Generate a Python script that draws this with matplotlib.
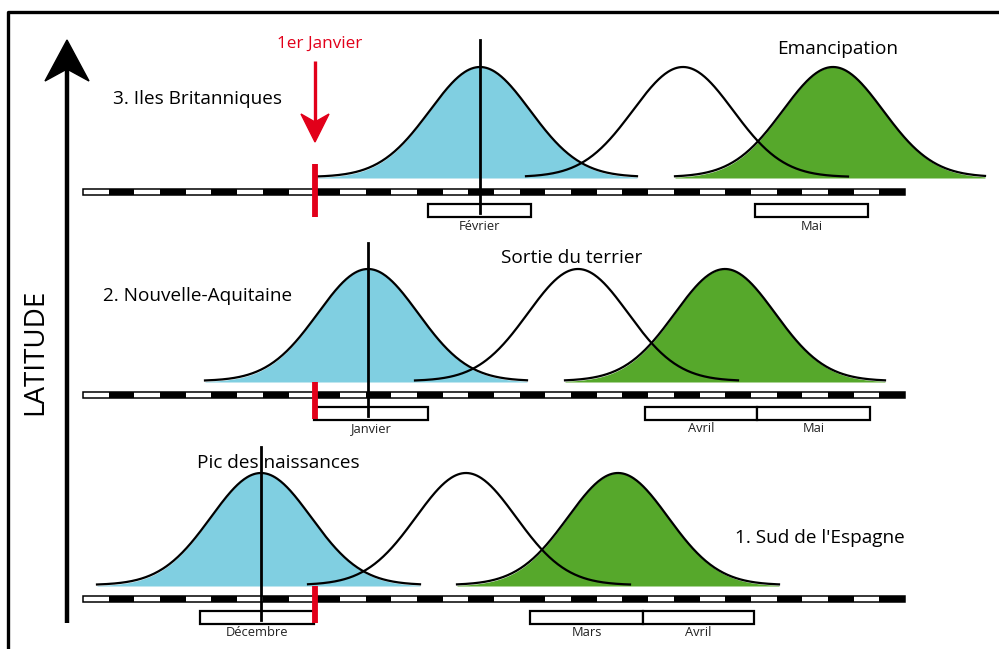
import matplotlib.pyplot as plt
import numpy as np
from matplotlib.patches import Rectangle, Polygon

plt.rcParams['font.family'] = ['Open Sans', 'DejaVu Sans']

# --- données du schéma (en pixels de l'image) ---
rangs = ['1. Sud de l\'Espagne', '2. Nouvelle-Aquitaine', '3. Iles Britanniques']
rang_pos = [(735, 538), (103, 296), (113, 99)]
barre_y = [599, 395, 192]            # axe du temps de chaque rang
base_y = [586, 382, 178]             # pied des courbes
sommet_y = [473, 269, 67]            # sommet des courbes

# centre et étendue (gauche, droite) des trois courbes par rang
bleu_c = [261, 368, 480]
bleu_ext = [(97, 420), (205, 527), (315, 637)]
blanc_c = [466, 578, 683]
blanc_ext = [(308, 630), (415, 738), (526, 848)]
vert_c = [618, 725, 833]
vert_ext = [(457, 779), (565, 885), (675, 985)]
sigma = 50

# pics des naissances (trait vertical)
pic_x = [261, 368, 480]
pic_haut = [447, 243, 40]

# mois sous chaque axe : (rang, nom, debut, fin)
mois = [(0, 'Décembre', 200, 314), (0, 'Mars', 530, 643), (0, 'Avril', 643, 754),
        (1, 'Janvier', 314, 428), (1, 'Avril', 645, 757), (1, 'Mai', 757, 870),
        (2, 'Février', 428, 531), (2, 'Mai', 755, 868)]

janvier_x = 315
barre_x0, barre_x1, n_seg = 83, 905, 32

bleu = '#80CFE1'
vert = '#56A82B'
rouge = '#E2001A'

fig = plt.figure(figsize=(9.99, 6.49), dpi=100)
ax = fig.add_axes([0, 0, 1, 1])
ax.set_xlim(0, 999)
ax.set_ylim(649, 0)
ax.axis('off')

# cadre
ax.plot([8, 8, 999], [649, 12, 12], color='black', lw=2.4, solid_capstyle='butt')

# axe LATITUDE
ax.plot([67, 67], [68, 623], color='black', lw=3.2, solid_capstyle='butt')
ax.add_patch(Polygon([(67, 40), (89, 81), (67, 69), (45, 81)], closed=True, color='black'))
ax.text(35, 352, 'LATITUDE', rotation=90, ha='center', va='center', fontsize=20)


def cloche(c, ext, b, s):
    x = np.linspace(ext[0], ext[1], 300)
    y = b - (b - s) * np.exp(-0.5 * ((x - c) / sigma) ** 2)
    return x, y


for i in range(3):
    b, s = base_y[i], sommet_y[i]
    # courbes remplies puis contours
    for c, ext, coul in [(bleu_c[i], bleu_ext[i], bleu), (vert_c[i], vert_ext[i], vert)]:
        x, y = cloche(c, ext, b, s)
        ax.fill_between(x, y, b, color=coul, lw=0, zorder=1)
    for c, ext in [(bleu_c[i], bleu_ext[i]), (blanc_c[i], blanc_ext[i]), (vert_c[i], vert_ext[i])]:
        x, y = cloche(c, ext, b - 1, s)
        ax.plot(x, y, color='black', lw=1.6, zorder=3)

    # axe du temps en tirets
    yb = barre_y[i]
    largeur = (barre_x1 - barre_x0) / n_seg
    for k in range(n_seg):
        ax.add_patch(Rectangle((barre_x0 + k * largeur, yb - 3), largeur, 6,
                               facecolor='white' if k % 2 == 0 else 'black',
                               edgecolor='none', zorder=4))
    ax.add_patch(Rectangle((barre_x0, yb - 3), barre_x1 - barre_x0, 6,
                           facecolor='none', edgecolor='black', lw=1.1, zorder=5))

    # trait du pic
    ax.plot([pic_x[i], pic_x[i]], [pic_haut[i], yb + 21], color='black', lw=2, zorder=6)

    # 1er janvier
    ax.plot([janvier_x, janvier_x], [b - (14 if i == 2 else 0), yb + 24 + (1 if i == 2 else 0)],
            color=rouge, lw=4.2, solid_capstyle='butt', zorder=7)

    ax.text(rang_pos[i][0], rang_pos[i][1], rangs[i], ha='left', va='center', fontsize=13.7)

for r, nom, x0, x1 in mois:
    yb = barre_y[r]
    ax.add_patch(Rectangle((x0, yb + 12), x1 - x0, 13, facecolor='white',
                           edgecolor='black', lw=1.6, zorder=5))
    ax.text((x0 + x1) / 2, yb + 34, nom, ha='center', va='center', fontsize=9.3, color='#222222')

# flèche rouge du 1er janvier
ax.text(320, 44, '1er Janvier', ha='center', va='center', fontsize=12.3, color=rouge)
ax.plot([janvier_x, janvier_x], [61, 124], color=rouge, lw=2.4, solid_capstyle='butt')
ax.add_patch(Polygon([(janvier_x, 142), (janvier_x - 14, 114), (janvier_x, 122), (janvier_x + 14, 114)],
                     closed=True, color=rouge))

# étiquettes des courbes
ax.text(838, 49, 'Emancipation', ha='center', va='center', fontsize=13.7)
ax.text(572, 258, 'Sortie du terrier', ha='center', va='center', fontsize=13.7)
ax.text(278, 463, 'Pic des naissances', ha='center', va='center', fontsize=13.7, zorder=8)

plt.savefig('out.png', dpi=100)
